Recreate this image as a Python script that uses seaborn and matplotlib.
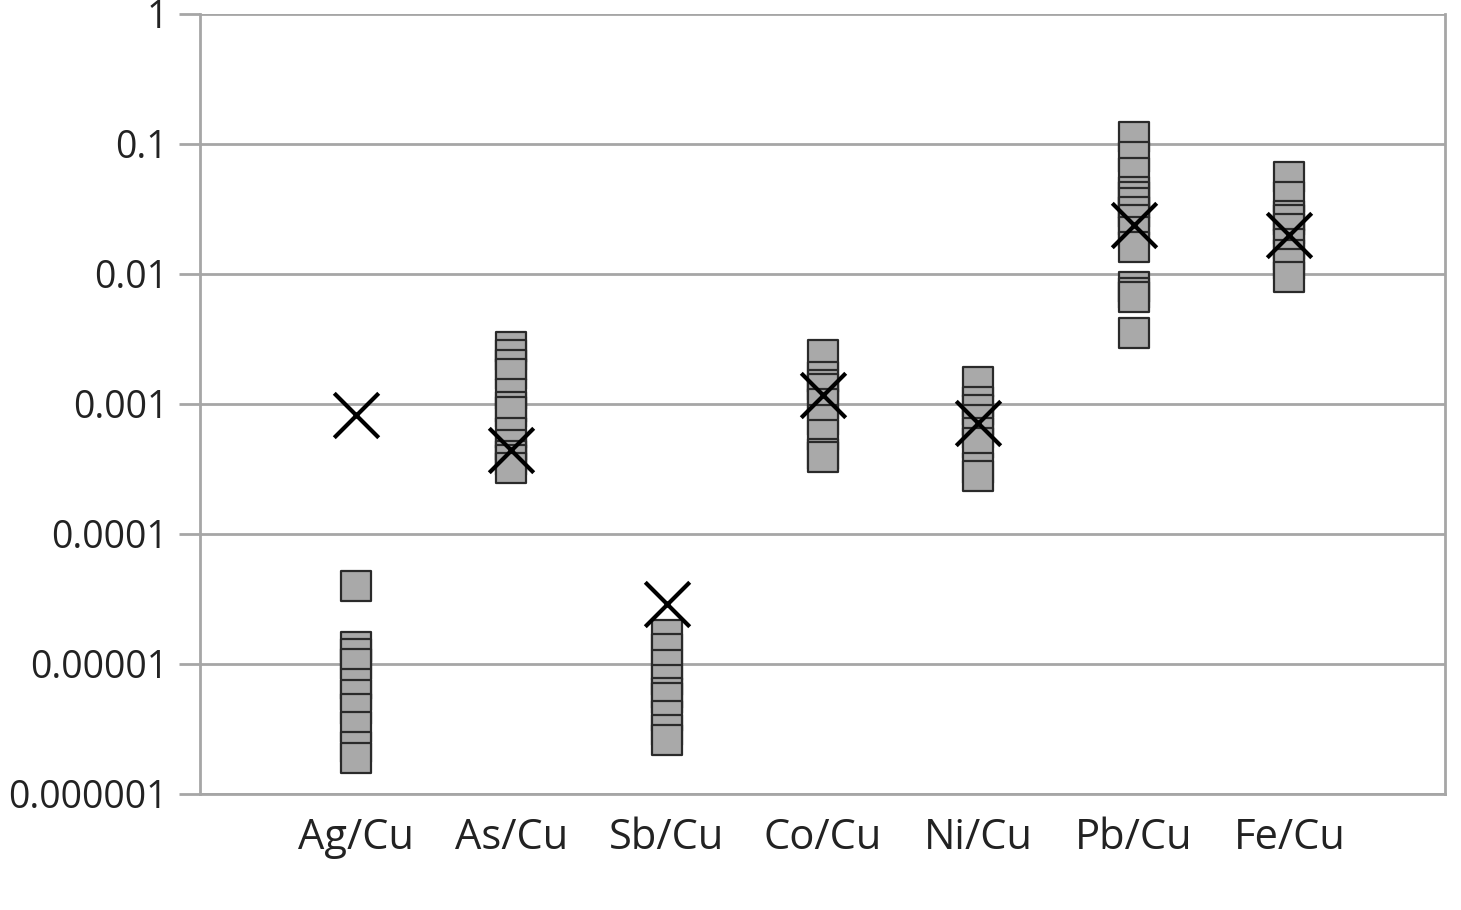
import numpy as np
import pandas as pd
import matplotlib
matplotlib.use('Agg')
import matplotlib.pyplot as plt
import seaborn as sns

# ================= 数据 =================
categories = ['Ag/Cu', 'As/Cu', 'Sb/Cu', 'Co/Cu', 'Ni/Cu', 'Pb/Cu', 'Fe/Cu']

ag_samples = [4.0e-5, 1.35e-5, 1.2e-5, 1.0e-5, 7.0e-6, 5.8e-6, 4.5e-6, 3.3e-6, 2.3e-6, 1.9e-6]
as_samples = [2.75e-3, 2.4e-3, 2.0e-3, 1.7e-3, 1.2e-3, 9.5e-4, 8.7e-4, 6.0e-4, 4.8e-4, 4.0e-4, 3.7e-4, 3.2e-4]
sb_samples = [1.66e-5, 1.3e-5, 9.8e-6, 7.5e-6, 6.0e-6, 5.5e-6, 4.0e-6, 3.1e-6, 2.6e-6]
co_samples = [2.4e-3, 1.6e-3, 1.4e-3, 1.3e-3, 1.0e-3, 7.5e-4, 5.8e-4, 4.1e-4, 3.9e-4]
ni_samples = [1.48e-3, 1.03e-3, 9.0e-4, 7.5e-4, 6.0e-4, 5.0e-4, 3.2e-4, 2.8e-4]
pb_samples = [0.113, 0.079, 0.06, 0.043, 0.039, 0.035, 0.03, 0.026, 0.021, 0.016,
              0.0079, 0.0072, 0.0066, 0.0035]
fe_samples = [0.056, 0.039, 0.028, 0.026, 0.022, 0.017, 0.014, 0.012, 0.0095]

# 叉号标记
x_marks = [8.3e-4, 4.4e-4, 2.9e-5, 1.17e-3, 7.2e-4, 0.024, 0.02]

sample_lists = [ag_samples, as_samples, sb_samples, co_samples, ni_samples, pb_samples, fe_samples]

y_ticks = [1, 0.1, 0.01, 0.001, 0.0001, 0.00001, 0.000001]
y_ticklabels = ['1', '0.1', '0.01', '0.001', '0.0001', '0.00001', '0.000001']

rows = []
for cat, vals in zip(categories, sample_lists):
    for v in vals:
        rows.append({'Ratio': cat, 'Value': v})
df_samples = pd.DataFrame(rows)
df_marks = pd.DataFrame({'Ratio': categories, 'Value': x_marks})

# ================= 样式 =================
sns.set_style('white')
plt.rcParams['font.family'] = ['Open Sans', 'DejaVu Sans']
GRID = '#a6a6a6'

fig = plt.figure(figsize=(14.61, 9.10), dpi=100)
ax = fig.add_axes([200 / 1461, 1 - 794 / 910, 1245 / 1461, 780 / 910])

sns.stripplot(ax=ax, data=df_samples, x='Ratio', y='Value', order=categories,
              jitter=False, marker='s', size=22, color='#a9a9a9',
              edgecolor='#2a2a2a', linewidth=1.6, zorder=3, log_scale=True)
sns.stripplot(ax=ax, data=df_marks, x='Ratio', y='Value', order=categories,
              jitter=False, marker='x', size=32, color='black',
              linewidth=3, zorder=4)

ax.set_yscale('log')
ax.set_ylim(1e-6, 1)
ax.set_xlim(-1, 7)
ax.set_yticks(y_ticks)
ax.set_yticklabels(y_ticklabels)
ax.minorticks_off()
ax.yaxis.grid(True, color=GRID, linewidth=2)
ax.set_axisbelow(True)

for side in ['left', 'right', 'bottom']:
    ax.spines[side].set_color(GRID)
    ax.spines[side].set_linewidth(2)
ax.spines['top'].set_visible(False)

ax.tick_params(axis='y', which='major', left=True, length=15, width=2, color=GRID,
               labelsize=27, pad=8, labelcolor='#222222')
ax.tick_params(axis='x', bottom=False, labelsize=30, pad=13, labelcolor='#222222')
ax.set_xlabel('')
ax.set_ylabel('')

plt.savefig('out.png', dpi=100)
